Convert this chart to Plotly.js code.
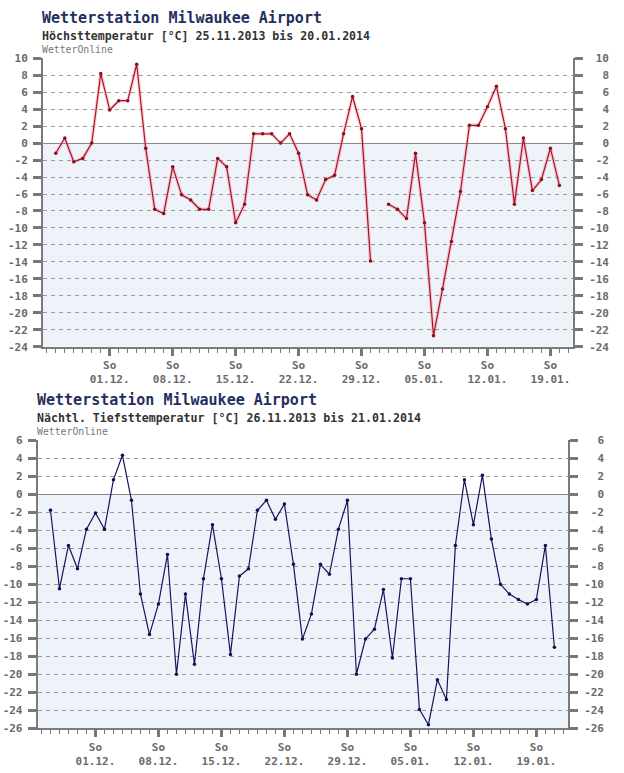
<!DOCTYPE html>
<html>
<head>
<meta charset="utf-8">
<script src="https://cdn.plot.ly/plotly-3.0.1.min.js"></script>
<style>html,body{margin:0;padding:0;background:#fff;}#chart{width:624px;height:773px;}</style>
</head>
<body>
<div id="chart"></div>
<script>
// ---- data ----
const startTop = '2013-11-25';
const startBot = '2013-11-26';
const tMax = [-1.2,0.6,-2.2,-1.8,0,8.2,3.9,5.0,5.0,9.3,-0.6,
  -7.8,-8.3,-2.8,-6.1,-6.7,-7.8,-7.8,-1.8,-2.8,-9.4,-7.2,
  1.1,1.1,1.1,0,1.1,-1.2,-6.1,-6.7,-4.3,-3.8,
  1.1,5.5,1.7,-13.9,null,-7.2,-7.8,-8.9,-1.2,-9.4,
  -22.7,-17.2,-11.6,-5.7,2.1,2.1,4.3,6.7,1.7,-7.2,
  0.6,-5.6,-4.3,-0.6,-5.0];
const tMin = [-1.8,-10.5,-5.7,-8.3,-3.9,-2.1,-3.9,1.6,4.3,-0.7,
  -11.1,-15.6,-12.2,-6.7,-20.0,-11.1,-18.9,-9.4,-3.4,-9.4,
  -17.8,-9.1,-8.3,-1.8,-0.7,-2.8,-1.1,-7.8,-16.1,-13.3,
  -7.8,-8.9,-3.9,-0.7,-20.0,-16.1,-15.0,-10.6,-18.2,-9.4,
  -9.4,-23.9,-25.6,-20.6,-22.8,-5.7,1.6,-3.4,2.1,-5.0,
  -10.0,-11.1,-11.7,-12.2,-11.7,-5.7,-17.0];
const sundayDates = ['2013-12-01','2013-12-08','2013-12-15','2013-12-22','2013-12-29','2014-01-05','2014-01-12','2014-01-19'];
const sundayLabels = ['So<br>01.12.','So<br>08.12.','So<br>15.12.','So<br>22.12.','So<br>29.12.','So<br>05.01.','So<br>12.01.','So<br>19.01.'];
const yTicksTop = [10,8,6,4,2,0,-2,-4,-6,-8,-10,-12,-14,-16,-18,-20,-22,-24];
const yTicksBot = [6,4,2,0,-2,-4,-6,-8,-10,-12,-14,-16,-18,-20,-22,-24,-26];
const titleText = 'Wetterstation Milwaukee Airport';
const subTop = 'Höchsttemperatur [°C] 25.11.2013 bis 20.01.2014';
const subBot = 'Nächtl. Tiefsttemperatur [°C] 26.11.2013 bis 21.01.2014';
const srcText = 'WetterOnline';

// ---- helpers ----
function shift(dateStr, days){
  const d = new Date(dateStr + 'T00:00:00Z');
  const t = new Date(d.getTime() + days*86400000);
  const p = n => String(n).padStart(2,'0');
  return t.getUTCFullYear()+'-'+p(t.getUTCMonth()+1)+'-'+p(t.getUTCDate())+' '+p(t.getUTCHours())+':'+p(t.getUTCMinutes())+':'+p(t.getUTCSeconds());
}
function datesFrom(start, n){ const a=[]; for(let i=0;i<n;i++) a.push(shift(start,i).slice(0,10)); return a; }
const xTop = datesFrom(startTop, tMax.length);
const xBot = datesFrom(startBot, tMin.length);

const W=624, H=773;
const mono = 'DejaVu Sans Mono, Liberation Mono, monospace';
const gray = '#6a6a6a';

const traces = [
  {x:xTop, y:tMax, type:'scatter', mode:'lines', xaxis:'x', yaxis:'y', hoverinfo:'skip',
   line:{color:'rgba(255,120,130,0.35)', width:3.5}, connectgaps:false, showlegend:false},
  {x:xTop, y:tMax, type:'scatter', mode:'lines+markers', xaxis:'x', yaxis:'y',
   line:{color:'#a3142b', width:1.2}, marker:{color:'#8a1020', size:3.5, symbol:'circle'}, connectgaps:false, showlegend:false},
  {x:xBot, y:tMin, type:'scatter', mode:'lines+markers', xaxis:'x2', yaxis:'y2',
   line:{color:'#15155e', width:1.2}, marker:{color:'#101050', size:3.5, symbol:'circle'}, connectgaps:false, showlegend:false},
  // invisible carriers so the right-hand label axes are drawn
  {x:xTop, y:tMax, type:'scatter', mode:'lines', xaxis:'x', yaxis:'y3', opacity:0, hoverinfo:'skip', line:{width:0}, showlegend:false},
  {x:xBot, y:tMin, type:'scatter', mode:'lines', xaxis:'x2', yaxis:'y4', opacity:0, hoverinfo:'skip', line:{width:0}, showlegend:false}
];

function xAxis(start, dom, anchor){
  return {
    type:'date', domain:dom, anchor:anchor,
    range:[shift(start,-1.42), shift(start,57.48)],
    tickmode:'array', tickvals:sundayDates, ticktext:sundayLabels,
    ticks:'outside', ticklen:7, tickwidth:3, tickcolor:'#777',
    showline:true, linecolor:'#7a7a7a', linewidth:2, mirror:false,
    showgrid:false, zeroline:false,
    tickfont:{family:mono, size:11, color:gray, weight:'bold'},
    minor:{tickmode:'linear', tick0:start, dtick:86400000, ticks:'outside', ticklen:4, tickwidth:1, tickcolor:'#777', showgrid:false},
    fixedrange:true
  };
}
function yAxis(range, tv, dom, anchor){
  return {
    domain:dom, anchor:anchor, range:range,
    tickmode:'array', tickvals:tv, ticktext:tv.map(String),
    ticks:'outside', ticklen:8, tickwidth:3, tickcolor:'#777',
    showline:true, linecolor:'#7a7a7a', linewidth:2, mirror:'allticks',
    showgrid:true, gridcolor:'#9a9a9a', gridwidth:1, griddash:'4px,4px',
    zeroline:true, zerolinecolor:'#8a8a8a', zerolinewidth:1,
    tickfont:{family:mono, size:11, color:gray, weight:'bold'},
    ticklabelstandoff:3, fixedrange:true
  };
}
function yRight(range, tv, over, pos){
  return {
    overlaying:over, side:'left', anchor:'free', position:pos, range:range,
    tickmode:'array', tickvals:tv, ticktext:tv.map(String),
    ticks:'', showline:false, showgrid:false, zeroline:false,
    tickfont:{family:mono, size:11, color:gray, weight:'bold'}, fixedrange:true
  };
}

const domXTop=[43/W, 572.7/W], domYTop=[1-346.7/H, 1-58.3/H];
const domXBot=[37.7/W, 567.7/W], domYBot=[1-728.3/H, 1-440/H];

function ann(text, px, py, size, color, bold){
  return {text:text, xref:'paper', yref:'paper', x:px/W, y:1-py/H, xanchor:'left', yanchor:'middle', showarrow:false,
    font:{family:mono, size:size, color:color, weight: bold?'bold':'normal'}};
}

const layout = {
  width:W, height:H, margin:{l:0,r:0,t:0,b:0},
  paper_bgcolor:'#fff', plot_bgcolor:'#fff', showlegend:false,
  xaxis: xAxis(startTop, domXTop, 'y'),
  yaxis: yAxis([-24,10], yTicksTop, domYTop, 'x'),
  xaxis2: xAxis(startBot, domXBot, 'y2'),
  yaxis2: yAxis([-26,6], yTicksBot, domYBot, 'x2'),
  yaxis3: yRight([-24,10], yTicksTop, 'y', 609/W),
  yaxis4: yRight([-26,6], yTicksBot, 'y2', 604/W),
  shapes:[
    {type:'rect', xref:'x domain', yref:'y', x0:0, x1:1, y0:-24, y1:0, fillcolor:'#eef2f9', line:{width:0}, layer:'below'},
    {type:'rect', xref:'x2 domain', yref:'y2', x0:0, x1:1, y0:-26, y1:0, fillcolor:'#eef2f9', line:{width:0}, layer:'below'}
  ],
  annotations:[
    ann(titleText, 40, 18.5, 15, '#1f3060', true),
    ann(subTop, 40, 36, 11.6, '#333333', true),
    ann(srcText, 40, 50, 9.8, '#777777', false),
    ann(titleText, 35, 400, 15, '#1f3060', true),
    ann(subBot, 35, 417.5, 11.6, '#333333', true),
    ann(srcText, 35, 431, 9.8, '#777777', false)
  ]
};

Plotly.newPlot('chart', traces, layout, {displayModeBar:false, staticPlot:true});
</script>
</body>
</html>
